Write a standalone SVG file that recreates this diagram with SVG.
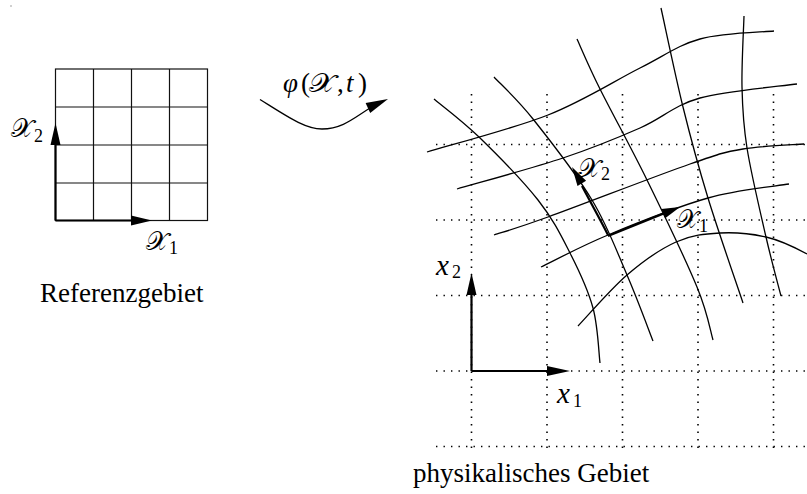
<svg xmlns="http://www.w3.org/2000/svg" width="807" height="494" viewBox="0 0 807 494">
<style>
.grid{stroke:#111;stroke-width:1.2;fill:none}
.curve{stroke:#000;stroke-width:1.3;fill:none}
.dot{stroke:#000;stroke-width:1.6;fill:none;stroke-dasharray:1.4 6.1}
.shaft{stroke:#000;stroke-width:2.2;fill:none}
.head{fill:#000;stroke:none}
.t{font-family:"Liberation Serif","DejaVu Serif",serif;fill:#000}
.m{font-family:"Liberation Serif","DejaVu Serif",serif;font-style:italic;fill:#000}
.cal{font-family:"DejaVu Serif","DejaVu Sans","Noto Sans",serif;fill:#000}
</style>
<rect width="807" height="494" fill="#fff"/>
<rect x="10.5" y="5.5" width="1" height="1" fill="#444"/>
<g id="referenzgebiet">
<rect class="grid" x="55.5" y="69" width="152" height="151.5"/>
<path class="grid" d="M93.5,69V220.5M131.5,69V220.5M169.5,69V220.5M55.5,107H207.5M55.5,145H207.5M55.5,183H207.5"/>
<path class="shaft" d="M55.5,220.5V140M55.5,220.5H135"/>
<polygon class="head" points="55.5,123 50.5,145 60.5,145"/>
<polygon class="head" points="152,220.5 131,215.5 131,225.5"/>
<text class="cal" x="11" y="137" font-size="26" textLength="22" lengthAdjust="spacingAndGlyphs">𝒳</text><text class="t" x="34" y="142" font-size="18">2</text>
<text class="cal" x="146" y="250" font-size="26" textLength="22" lengthAdjust="spacingAndGlyphs">𝒳</text><text class="t" x="169" y="254" font-size="18">1</text>
<text class="t" x="40" y="302" font-size="27">Referenzgebiet</text>
</g>
<g id="abbildung">
<path class="curve" d="M260,99.5 C288,117 305,129 322,129 C342,129 354,118 370,108"/>
<polygon class="head" points="388,99 370.2,113 365.6,103"/>
<text class="m" x="283" y="92" font-size="27">φ</text>
<text class="t" x="301" y="92" font-size="27">(</text>
<text class="cal" x="309" y="92" font-size="26" textLength="26" lengthAdjust="spacingAndGlyphs">𝒳</text>
<text class="t" x="337" y="92" font-size="27">,</text>
<text class="m" x="346" y="92" font-size="27">t</text>
<text class="t" x="358" y="92" font-size="27">)</text>
</g>
<g id="physikalisches-gebiet">
<g id="kartesisch">
<path class="dot" d="M436,144.5H807M436,220H807M436,295.5H807M436,371H807M436,446.5H807"/>
<path class="dot" d="M471.5,94V450M547,94V450M622.5,94V450M698,94V450M773.5,94V450"/>
</g>
<g id="krummlinig">
<path class="curve" d="M427,152 C447.2,145.8 512.5,129 548,115 C583.5,101 614.7,80.7 640,68 C665.3,55.3 677.7,45.2 700,39 C722.3,32.8 761.7,32.3 774,31"/>
<path class="curve" d="M457,189 C474.7,183.8 532.5,168.2 563,158 C593.5,147.8 617.2,138 640,128 C662.8,118 673.8,105.3 700,98 C726.2,90.7 780.8,86.3 797,84"/>
<path class="curve" d="M494,235 C503,232 515.3,228.8 548,217 C580.7,205.2 657.5,175.3 690,164 C722.5,152.7 724,152.3 743,149 C762,145.7 793.8,144.8 804,144"/>
<path class="curve" d="M541,267 C552.2,261.7 580.2,246.5 608,235 C635.8,223.5 677.8,206.5 708,198 C738.2,189.5 775.5,186.3 789,184"/>
<path class="curve" d="M578,326 C586.2,317.5 610.7,289 627,275 C643.3,261 660.5,249 676,242 C691.5,235 705,233.8 720,233 C735,232.2 751.5,233.7 766,237 C780.5,240.3 800.2,250.3 807,254"/>
<path class="curve" d="M434,99 C441.5,105.3 461.7,120.2 479,137 C496.3,153.8 522.8,180.7 538,200 C553.2,219.3 560.8,235 570,253 C579.2,271 588,289.7 593,308 C598,326.3 598.8,353.8 600,363"/>
<path class="curve" d="M494,77 C500.5,84 516.7,98.5 533,119 C549.3,139.5 576.3,174 592,200 C607.7,226 616.8,251.5 627,275 C637.2,298.5 648.7,330 653,341"/>
<path class="curve" d="M577,39 C580.8,47.3 588.3,65.5 600,89 C611.7,112.5 630.8,147 647,180 C663.2,213 686,260.3 697,287 C708,313.7 710.3,331.2 713,340"/>
<path class="curve" d="M661,8 C664.7,24.5 675.2,75.3 683,107 C690.8,138.7 698,165.3 708,198 C718,230.7 737.2,285.5 743,303"/>
<path class="curve" d="M744,16 C743.7,27.8 741.5,65 742,87 C742.5,109 743,123 747,148 C751,173 760.3,212.3 766,237 C771.7,261.7 778.5,286.2 781,296"/>
</g>
<g id="basisvektoren">
<path class="shaft" d="M608,235 C601,221 592,205 582,186"/>
<polygon class="head" points="572,167 586.1,180.7 577.5,185.9"/>
<path class="shaft" d="M608,236 L665,213"/>
<polygon class="head" points="680,207 665.2,218.3 661.4,209.1"/>
<text class="cal" x="578" y="177" font-size="26" textLength="22" lengthAdjust="spacingAndGlyphs">𝒳</text><text class="t" x="601" y="180" font-size="18">2</text>
<text class="cal" x="677" y="228" font-size="26" textLength="21" lengthAdjust="spacingAndGlyphs">𝒳</text><text class="t" x="699" y="232" font-size="18">1</text>
</g>
<g id="achsen">
<path class="shaft" d="M471.5,371V290M471.5,371H550"/>
<polygon class="head" points="471.5,273 466.5,295 476.5,295"/>
<polygon class="head" points="570,371 547,366 547,376"/>
<text class="m" x="436" y="275" font-size="29">x</text><text class="t" x="452" y="278" font-size="18">2</text>
<text class="m" x="557" y="403" font-size="29">x</text><text class="t" x="573" y="407" font-size="18">1</text>
</g>
<text class="t" x="413" y="482" font-size="27">physikalisches Gebiet</text>
</g>
</svg>
